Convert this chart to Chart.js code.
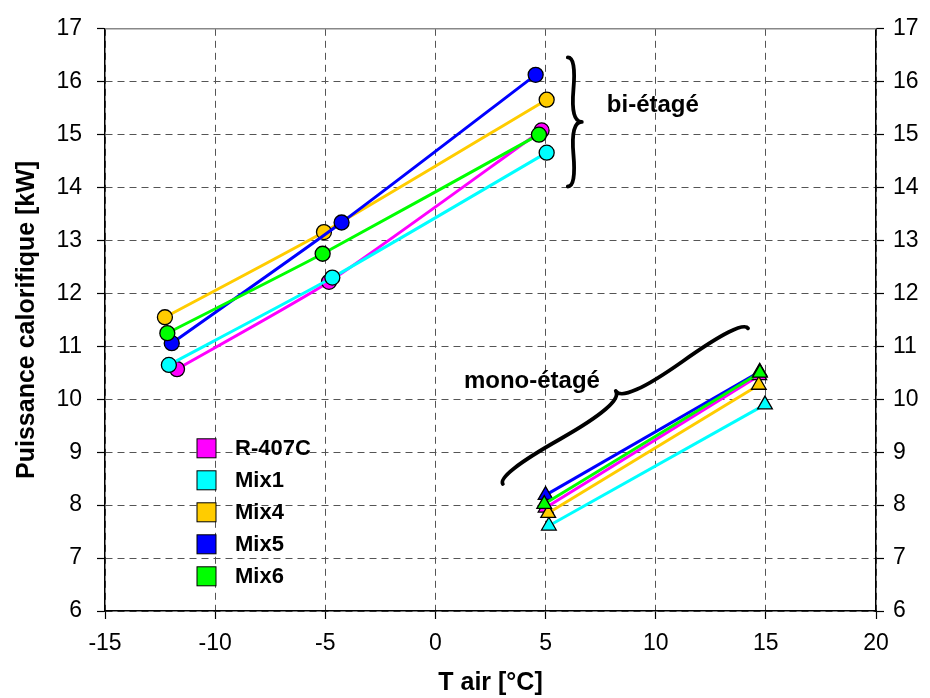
<!DOCTYPE html>
<html>
<head>
<meta charset="utf-8">
<script src="https://cdn.jsdelivr.net/npm/chart.js@4"></script>
<style>
  body { margin: 0; background: #fff; }
  #wrap { width: 930px; height: 698px; }
</style>
</head>
<body>
<div id="wrap"><canvas id="chart" width="930" height="698"></canvas></div>
<script>
// Séries (fluides)
const names = ['R-407C', 'Mix1', 'Mix4', 'Mix5', 'Mix6'];
const colors = ['#ff00ff', '#00ffff', '#ffcc00', '#0000ff', '#00ff00'];

// Bi-étagé : T air [°C] et puissance calorifique [kW]
const biTair = [
  [-11.73, -4.83, 4.82],
  [-12.10, -4.68, 5.05],
  [-12.28, -5.06, 5.05],
  [-11.97, -4.26, 4.55],
  [-12.17, -5.12, 4.70]
];
const biPower = [
  [10.57, 12.22, 15.08],
  [10.65, 12.30, 14.66],
  [11.55, 13.16, 15.66],
  [11.06, 13.34, 16.13],
  [11.25, 12.75, 15.00]
];

// Mono-étagé
const monoTair = [
  [5.00, 14.70],
  [5.15, 14.96],
  [5.12, 14.68],
  [5.00, 14.72],
  [4.94, 14.73]
];
const monoPower = [
  [7.95, 10.45],
  [7.61, 9.90],
  [7.85, 10.27],
  [8.19, 10.52],
  [8.02, 10.50]
];

// Axes
const xMin = -15, xMax = 20, xStep = 5;
const yMin = 6, yMax = 17, yStep = 1;

Chart.defaults.font.family = 'Arial, "Liberation Sans", sans-serif';
Chart.defaults.color = '#000';

const datasets = [];
names.forEach((name, i) => {
  datasets.push({
    label: name,
    data: biTair[i].map((t, k) => ({ x: t, y: biPower[i][k] })),
    showLine: true,
    borderColor: colors[i],
    backgroundColor: colors[i],
    pointBackgroundColor: colors[i],
    pointBorderColor: '#000',
    pointBorderWidth: 1.3,
    pointStyle: 'circle',
    pointRadius: 7.5,
    borderWidth: 3,
    tension: 0.2,
    order: 20 - i
  });
});
names.forEach((name, i) => {
  datasets.push({
    label: name + ' mono',
    data: monoTair[i].map((t, k) => ({ x: t, y: monoPower[i][k] })),
    showLine: true,
    borderColor: colors[i],
    backgroundColor: colors[i],
    pointBackgroundColor: colors[i],
    pointBorderColor: '#000',
    pointBorderWidth: 1.3,
    pointStyle: 'triangle',
    pointRadius: 8.5,
    borderWidth: 3,
    tension: 0,
    order: 10 - i
  });
});

// accolade entre deux points (pixels), pointe vers la normale
function drawBrace(c, x1, y1, x2, y2, w) {
  const len = Math.hypot(x2 - x1, y2 - y1);
  const ux = (x2 - x1) / len, uy = (y2 - y1) / len;
  const nx = uy, ny = -ux;
  const P = (a, b) => [x1 + ux * a + nx * b, y1 + uy * a + ny * b];
  const q = 0.6;
  c.beginPath();
  c.moveTo(...P(0, 0));
  c.quadraticCurveTo(...P(0, q * w), ...P(0.25 * len, (1 - q) * w));
  c.quadraticCurveTo(...P(0.5 * len, (2 - 3 * q) * w), ...P(0.5 * len, w));
  c.moveTo(...P(len, 0));
  c.quadraticCurveTo(...P(len, q * w), ...P(0.75 * len, (1 - q) * w));
  c.quadraticCurveTo(...P(0.5 * len, (2 - 3 * q) * w), ...P(0.5 * len, w));
  c.stroke();
}

const extras = {
  id: 'extras',
  afterDraw(chart) {
    const c = chart.ctx;
    const ca = chart.chartArea;
    const sx = chart.scales.x, sy = chart.scales.y;
    c.save();
    // bord supérieur
    c.strokeStyle = '#888';
    c.lineWidth = 1.5;
    c.beginPath();
    c.moveTo(ca.left, ca.top);
    c.lineTo(ca.right, ca.top);
    c.stroke();

    // légende
    c.font = 'bold 22px Arial, "Liberation Sans", sans-serif';
    c.textBaseline = 'middle';
    c.textAlign = 'left';
    names.forEach((n, i) => {
      const cy = ca.top + 419 + i * 32;
      c.fillStyle = colors[i];
      c.fillRect(ca.left + 92, cy - 9, 19, 19);
      c.strokeStyle = '#000';
      c.lineWidth = 1;
      c.strokeRect(ca.left + 92, cy - 9, 19, 19);
      c.fillStyle = '#000';
      c.fillText(n, ca.left + 130, cy + 1);
    });

    // accolades
    c.strokeStyle = '#000';
    c.lineWidth = 3.8;
    c.lineCap = 'round';
    drawBrace(c, sx.getPixelForValue(6.01), sy.getPixelForValue(16.46),
                 sx.getPixelForValue(6.01), sy.getPixelForValue(14.02), 14);
    drawBrace(c, sx.getPixelForValue(3.06), sy.getPixelForValue(8.40),
                 sx.getPixelForValue(14.19), sy.getPixelForValue(11.34), 18);

    c.font = 'bold 24px Arial, "Liberation Sans", sans-serif';
    c.textAlign = 'center';
    c.fillStyle = '#000';
    c.fillText('bi-étagé', sx.getPixelForValue(9.87), sy.getPixelForValue(15.56));
    c.fillText('mono-étagé', sx.getPixelForValue(4.38), sy.getPixelForValue(10.33));
    c.restore();
  }
};

const gridOpts = { color: '#555', lineWidth: 1, tickColor: '#000', tickLength: 8, tickWidth: 1.2 };

new Chart(document.getElementById('chart').getContext('2d'), {
  type: 'scatter',
  data: { datasets: datasets },
  options: {
    responsive: false,
    animation: false,
    layout: { padding: { top: 24, left: 0, right: 0, bottom: 0 } },
    plugins: { legend: { display: false }, tooltip: { enabled: false } },
    scales: {
      x: {
        type: 'linear', position: 'bottom', min: xMin, max: xMax,
        ticks: { stepSize: xStep, font: { size: 23 }, padding: 11, color: '#000' },
        grid: gridOpts,
        border: { color: '#000', width: 1.5, dash: [7, 5] },
        title: { display: true, text: 'T air [°C]', color: '#000',
                 font: { size: 25, weight: 'bold' }, padding: { top: 0, bottom: 0 } },
        afterFit: s => { s.height = 87; }
      },
      y: {
        type: 'linear', position: 'left', min: yMin, max: yMax,
        ticks: { stepSize: yStep, font: { size: 23 }, padding: 15, color: '#000' },
        grid: gridOpts,
        border: { color: '#000', width: 1.5, dash: [7, 5] },
        title: { display: true, text: 'Puissance calorifique [kW]', color: '#000',
                 font: { size: 25, weight: 'bold' }, padding: { top: 12, bottom: 0 } },
        afterFit: s => { s.width = 105; }
      },
      y2: {
        type: 'linear', position: 'right', min: yMin, max: yMax,
        ticks: { stepSize: yStep, font: { size: 23 }, padding: 9, color: '#000' },
        grid: Object.assign({}, gridOpts, { drawOnChartArea: false }),
        border: { color: '#000', width: 1.5 },
        afterFit: s => { s.width = 54; }
      }
    }
  },
  plugins: [extras]
});
</script>
</body>
</html>
